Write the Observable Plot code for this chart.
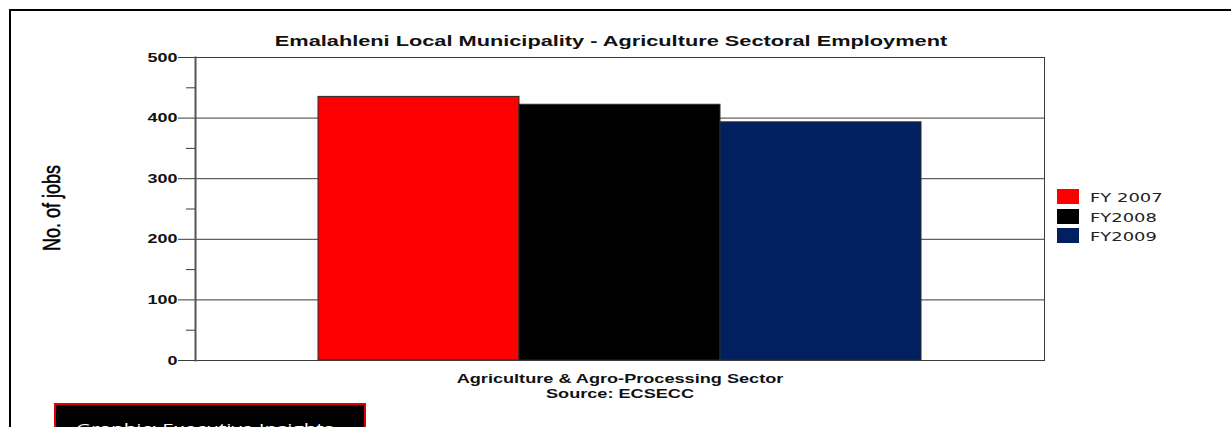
<!DOCTYPE html>
<html><head><meta charset="utf-8">
<script src="https://cdn.jsdelivr.net/npm/d3@7"></script>
<script src="https://cdn.jsdelivr.net/npm/@observablehq/plot@0.6"></script>
<style>
body{margin:0;background:#fff;}
#wrap{position:relative;width:1231px;height:427px;overflow:hidden;font-family:"Liberation Sans",Arial,sans-serif;}
#wrap svg{position:absolute;left:0;top:0;}
.t{position:absolute;white-space:nowrap;line-height:1;}
#outer{position:absolute;left:9px;top:9px;width:1240px;height:500px;border-left:2.5px solid #000;border-top:2.5px solid #000;box-sizing:border-box;}
#credit{position:absolute;left:54px;top:403px;width:312px;height:60px;background:#000;border:2px solid #e00000;box-sizing:border-box;}
</style></head><body><div id="wrap"><div id="outer"></div></div>
<script>
const title = "Emalahleni Local Municipality - Agriculture Sectoral Employment";
const yLabel = "No. of jobs";
const sector = "Agriculture & Agro-Processing Sector";
const source = "Source: ECSECC";
const credit = "Graphic: Executive Insights";
const series = ["FY 2007", "FY2008", "FY2009"];
const jobs = [435, 422, 393];
const colors = ["#ff0000", "#000000", "#002060"];
const yTicks = [0, 100, 200, 300, 400, 500];
const yMinor = [50, 150, 250, 350, 450];
const gridTicks = [100, 200, 300, 400];

const K = 1.38; // horizontal stretch of the reference
const data = series.map((s, i) => ({series: s, jobs: jobs[i]}));
const wrap = document.getElementById("wrap");

const chart = Plot.plot({
  width: 1231, height: 427,
  marginLeft: 195, marginRight: 187, marginTop: 57, marginBottom: 67,
  style: {background: "transparent", fontFamily: "Liberation Sans, Arial, sans-serif", overflow: "visible"},
  x: {domain: series, paddingInner: 0, paddingOuter: 0.605, axis: null},
  y: {domain: [0, 500]},
  color: {domain: series, range: colors},
  marks: [
    Plot.gridY(gridTicks, {stroke: "#3a3a3a", strokeOpacity: 1}),
    Plot.barY(data, {x: "series", y: "jobs", fill: "series", stroke: "#2a2a2a", strokeWidth: 1}),
    Plot.frame({stroke: "#3a3a3a"}),
    Plot.axisY(yTicks, {tickSize: 17, tickPadding: 1, fontSize: 13, fontWeight: "bold", color: "#111", stroke: "#3a3a3a", label: null}),
    Plot.axisY(yMinor, {tickSize: 9, text: null, stroke: "#3a3a3a", label: null}),
    Plot.frame({anchor: "left", stroke: "#555", strokeWidth: 2})
  ]
});
wrap.appendChild(chart);
chart.querySelectorAll('g[aria-label="y-axis tick label"] text').forEach(t => {
  const w = t.getComputedTextLength();
  t.setAttribute("textLength", w * K);
  t.setAttribute("lengthAdjust", "spacingAndGlyphs");
});

function addText(str, x, y, opts) {
  const d = document.createElement("div");
  d.className = "t";
  d.textContent = str;
  Object.assign(d.style, opts.style || {});
  d.style.left = x + "px";
  d.style.top = y + "px";
  const k = opts.k || K;
  const ax = opts.anchor === "middle" ? "-50%" : opts.anchor === "end" ? "-100%" : "0";
  d.style.transformOrigin = opts.anchor === "middle" ? "50% 50%" : opts.anchor === "end" ? "100% 50%" : "0 50%";
  d.style.transform = `translate(${ax}, -50%) scaleX(${k})` + (opts.rotate ? " rotate(-90deg)" : "");
  wrap.appendChild(d);
  return d;
}

addText(title, 611, 40, {anchor: "middle", k: 1.45, style: {fontSize: "15px", fontWeight: "bold", color: "#111"}});
addText(sector, 620, 379, {anchor: "middle", k: 1.45, style: {fontSize: "12.5px", fontWeight: "bold", color: "#111"}});
addText(source, 620, 394, {anchor: "middle", k: 1.45, style: {fontSize: "12.5px", fontWeight: "bold", color: "#111"}});
addText(yLabel, 52, 208, {anchor: "middle", rotate: true, style: {fontSize: "18px", color: "#000", webkitTextStroke: "0.4px #000"}});

// legend
series.forEach((s, i) => {
  const sw = document.createElement("div");
  Object.assign(sw.style, {position: "absolute", left: "1057px", top: (189 + i * 19.5) + "px", width: "22px", height: "15px", background: colors[i]});
  wrap.appendChild(sw);
  addText(s, 1090, 197 + i * 19.5, {anchor: "start", style: {fontSize: "13px", fontFamily: "DejaVu Sans, Verdana, sans-serif", color: "#222"}});
});

const cb = document.createElement("div");
cb.id = "credit";
wrap.appendChild(cb);
addText(credit, 76, 428, {anchor: "start", style: {fontSize: "15px", fontFamily: "Open Sans, sans-serif", color: "#fff"}});
</script>
</body></html>
